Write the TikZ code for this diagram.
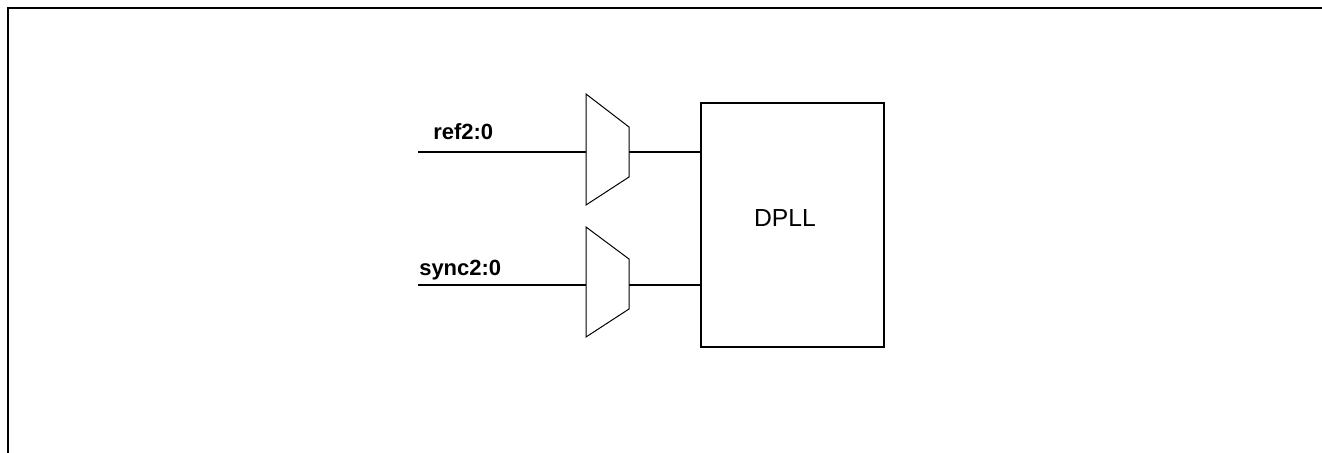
\documentclass[tikz,border=0pt]{standalone}
\usepackage{fontspec}
\setmainfont{Liberation Sans}
\begin{document}
\begin{tikzpicture}[x=0.75pt,y=-0.75pt,
  frameline/.style={line width=1.5pt,line cap=rect},
  sig/.style={line width=1.3pt},
  muxshape/.style={line width=0.75pt,fill=white,line join=miter},
  blockbox/.style={draw,line width=1.5pt,minimum width=137.25pt,minimum height=183pt,inner sep=0pt},
  siglabel/.style={font=\bfseries\fontsize{16.5}{18}\selectfont,anchor=west,inner sep=0pt},
  blocklabel/.style={font=\fontsize{18.5}{20}\selectfont,inner sep=0pt}]
\useasboundingbox (0,0) rectangle (1322,453);
% frame
\coordinate (ftr) at (1330,8);
\coordinate (ftl) at (8,8);
\coordinate (fbl) at (8,460);
\draw[frameline] (ftr) -- (ftl) -- (fbl);
% DPLL block
\node[blockbox] (dpll) at (792.5,225) {};
\node[blocklabel] (dplltext) at (785,218) {DPLL};
% mux 1
\coordinate (m1tl) at (586,94);
\coordinate (m1bl) at (586,205);
\coordinate (m1tr) at (629,127);
\coordinate (m1br) at (629,177);
\coordinate (m1in) at (586,152);
\coordinate (m1out) at (629,152);
\coordinate (in1) at (418,152);
% mux 2
\coordinate (m2tl) at (586,227);
\coordinate (m2bl) at (586,337);
\coordinate (m2tr) at (629,259);
\coordinate (m2br) at (629,309);
\coordinate (m2in) at (586,285);
\coordinate (m2out) at (629,285);
\coordinate (in2) at (418,285);
% connectors
\draw[sig] (in1) -- (m1in);
\draw[sig] (m1out) -- (m1out -| dpll.west);
\draw[sig] (in2) -- (m2in);
\draw[sig] (m2out) -- (m2out -| dpll.west);
\draw[muxshape] (m1tl) -- (m1tr) -- (m1br) -- (m1bl) -- cycle;
\draw[muxshape] (m2tl) -- (m2tr) -- (m2br) -- (m2bl) -- cycle;
% labels
\node[siglabel] (lref) at (433,132) {ref2:0};
\node[siglabel] (lsync) at (419,270) {sync2:0};
\end{tikzpicture}
\end{document}
